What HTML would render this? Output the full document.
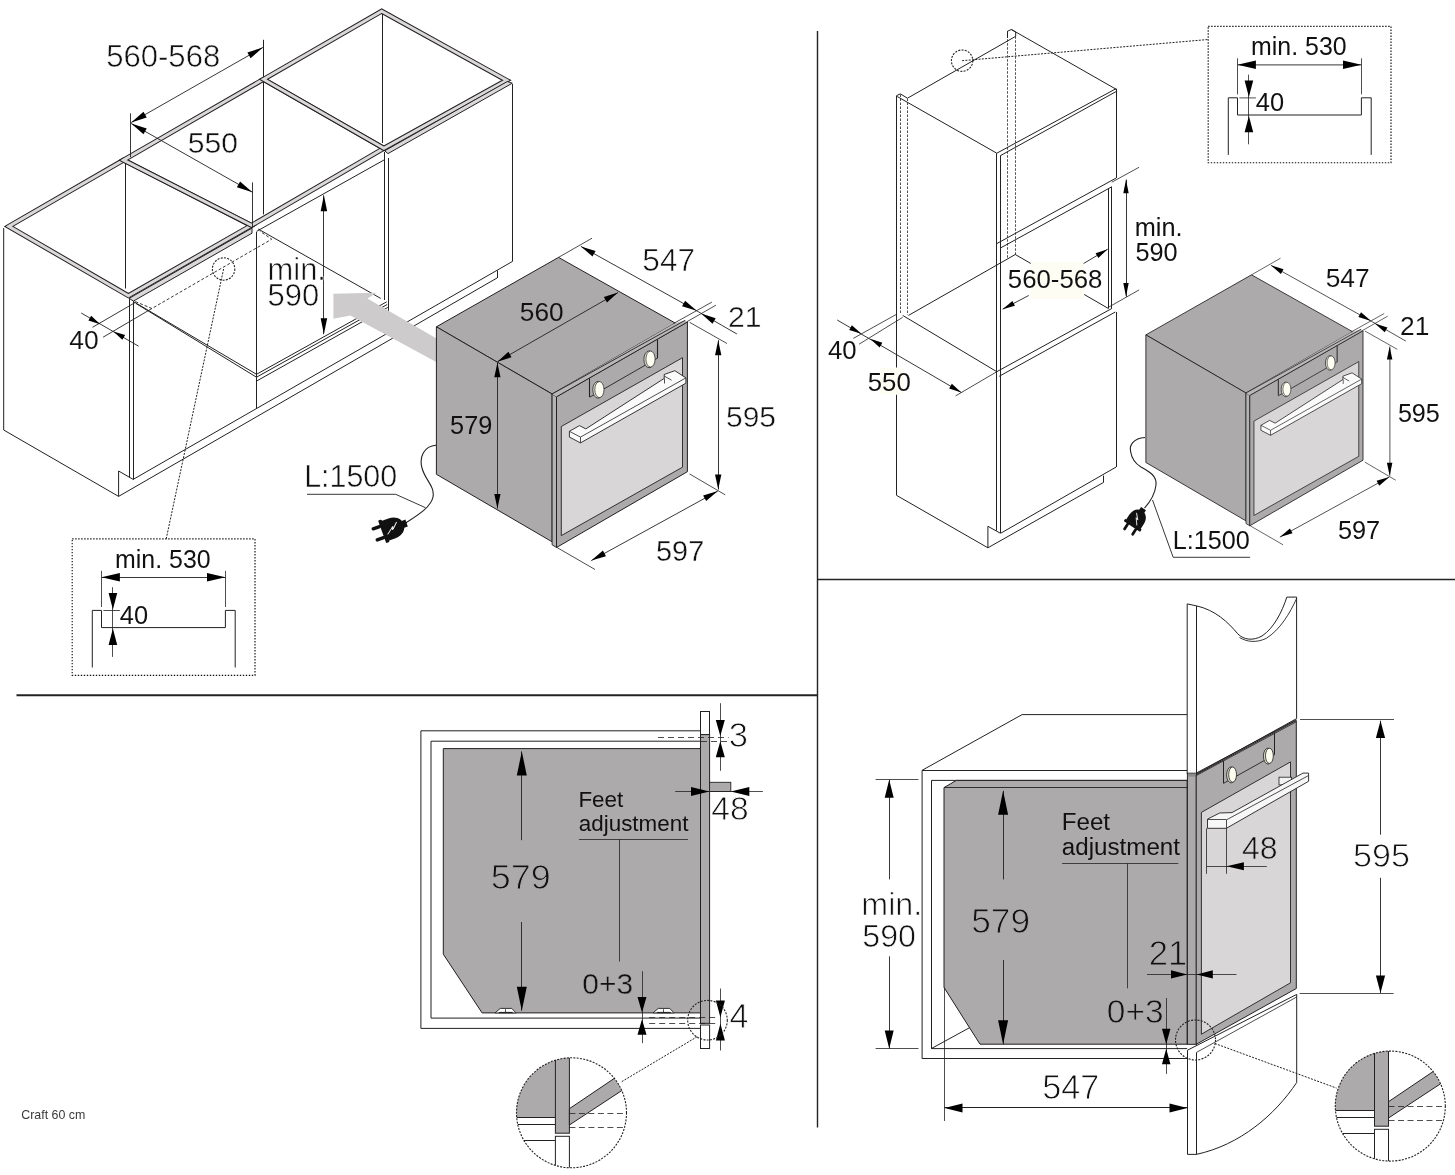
<!DOCTYPE html>
<html><head><meta charset="utf-8"><style>
html,body{margin:0;padding:0;background:#fff;width:1455px;height:1175px;overflow:hidden}
svg{display:block;font-family:"Liberation Sans",sans-serif;will-change:transform}
</style></head><body>
<svg width="1455" height="1175" viewBox="0 0 1455 1175">
<rect width="1455" height="1175" fill="#fff"/>
<line x1="817.5" y1="31" x2="817.5" y2="1127.5" stroke="#232121" stroke-width="1.4"/>
<line x1="817.5" y1="579.5" x2="1455" y2="579.5" stroke="#232121" stroke-width="1.4"/>
<line x1="16.5" y1="695.2" x2="817.5" y2="695.2" stroke="#232121" stroke-width="1.9"/>
<line x1="125.5" y1="161" x2="125.5" y2="288.5" stroke="#232121" stroke-width="1.0"/>
<line x1="263.5" y1="39.8" x2="263.5" y2="214.4" stroke="#232121" stroke-width="1.0"/>
<line x1="382.5" y1="13" x2="382.5" y2="143" stroke="#232121" stroke-width="1.0"/>
<polyline points="3.7,228 3.7,430 118.6,496.4 118.6,471 133.2,479.4" fill="none" stroke="#232121" stroke-width="1.0" stroke-linejoin="miter"/>
<line x1="129.5" y1="298.5" x2="129.5" y2="477.5" stroke="#232121" stroke-width="1.0"/>
<line x1="133.5" y1="301.2" x2="133.5" y2="479.6" stroke="#232121" stroke-width="1.0"/>
<line x1="118.6" y1="496.4" x2="497" y2="278" stroke="#232121" stroke-width="1.0"/>
<line x1="133.2" y1="479.4" x2="512" y2="261.7" stroke="#232121" stroke-width="1.0"/>
<line x1="497.5" y1="270.5" x2="497.5" y2="278" stroke="#232121" stroke-width="1.0"/>
<line x1="512.5" y1="84" x2="512.5" y2="261.7" stroke="#232121" stroke-width="1.0"/>
<line x1="384.5" y1="152" x2="384.5" y2="300" stroke="#232121" stroke-width="1.0"/>
<line x1="388.5" y1="158" x2="388.5" y2="332.6" stroke="#232121" stroke-width="1.0"/>
<line x1="256.5" y1="232" x2="256.5" y2="408" stroke="#232121" stroke-width="1.0"/>
<line x1="256.5" y1="374.3" x2="386.7" y2="301.8" stroke="#232121" stroke-width="1.0"/>
<line x1="256.5" y1="377.2" x2="387.2" y2="304.5" stroke="#232121" stroke-width="1.0"/>
<line x1="256.5" y1="381.1" x2="387.8" y2="307.4" stroke="#232121" stroke-width="1.0"/>
<line x1="133.8" y1="301.8" x2="256.5" y2="374.3" stroke="#232121" stroke-width="1.0"/>
<line x1="136" y1="303.5" x2="256.5" y2="377.2" stroke="#232121" stroke-width="1.0"/>
<line x1="258.2" y1="229" x2="380.7" y2="298.4" stroke="#232121" stroke-width="1.0"/>
<polyline points="135.4,301.6 151.9,308.5 271.7,239.2 259.7,231" fill="none" stroke="#232121" stroke-width="0.9" stroke-dasharray="3,2" stroke-linejoin="miter"/>
<line x1="92.5" y1="327.3" x2="135.4" y2="302.4" stroke="#232121" stroke-width="0.9"/>
<line x1="103.1" y1="337.2" x2="151.9" y2="308.5" stroke="#232121" stroke-width="0.9"/>
<line x1="81.2" y1="313" x2="138.6" y2="346.2" stroke="#232121" stroke-width="0.9"/>
<polygon points="100.1,324.3 88.39,320.5 91.21,315.78" fill="#000"/>
<polygon points="113.4,331.4 125.14,335.11 122.35,339.85" fill="#000"/>
<text x="69.36" y="349.37" font-size="26.4" fill="#111" stroke="#fff" stroke-width="0.09">40</text>
<polygon points="8.8,226.4 123.5,160.1 251.5,225.4 128.4,295.7" fill="none" stroke="#232121" stroke-width="5.0" stroke-linejoin="miter" stroke-miterlimit="10"/>
<polygon points="8.8,226.4 123.5,160.1 251.5,225.4 128.4,295.7" fill="none" stroke="#dad8d9" stroke-width="3.0" stroke-linejoin="miter" stroke-miterlimit="10"/>
<polygon points="123.5,160.1 263.5,79.3 383.9,148.3 251.5,225.4" fill="none" stroke="#232121" stroke-width="5.0" stroke-linejoin="miter" stroke-miterlimit="10"/>
<polygon points="123.5,160.1 263.5,79.3 383.9,148.3 251.5,225.4" fill="none" stroke="#dad8d9" stroke-width="3.0" stroke-linejoin="miter" stroke-miterlimit="10"/>
<polygon points="263.5,79.3 381.7,11.2 506.5,80.3 383.9,148.3" fill="none" stroke="#232121" stroke-width="5.0" stroke-linejoin="miter" stroke-miterlimit="10"/>
<polygon points="263.5,79.3 381.7,11.2 506.5,80.3 383.9,148.3" fill="none" stroke="#dad8d9" stroke-width="3.0" stroke-linejoin="miter" stroke-miterlimit="10"/>
<polygon points="129.2,298.3 252,228.1 252,233.2 133.4,301.1" fill="#dad8d9" stroke="#232121" stroke-width="1" stroke-linejoin="round"/>
<line x1="256.5" y1="231.4" x2="384.7" y2="159.6" stroke="#232121" stroke-width="1.0"/>
<polygon points="384.7,150.8 507.3,81.5 512.3,83.2 388,153.6" fill="#dad8d9" stroke="#232121" stroke-width="1" stroke-linejoin="round"/>
<circle cx="223.6" cy="269" r="11.2" fill="none" stroke="#232121" stroke-width="1.1" stroke-dasharray="2,1.3"/>
<line x1="223.6" y1="269" x2="166.2" y2="538.9" stroke="#232121" stroke-width="1.0" stroke-dasharray="2,1.3"/>
<line x1="130.5" y1="113.3" x2="130.5" y2="157.2" stroke="#232121" stroke-width="0.9"/>
<line x1="252.5" y1="182.4" x2="252.5" y2="227.7" stroke="#232121" stroke-width="0.9"/>
<line x1="131.2" y1="122.5" x2="262.9" y2="47.4" stroke="#232121" stroke-width="0.9"/>
<polygon points="131.2,122.5 143.49,111.75 146.71,117.4" fill="#000"/>
<polygon points="262.9,47.4 250.61,58.15 247.39,52.5" fill="#000"/>
<line x1="131.2" y1="123.5" x2="252.4" y2="192.2" stroke="#232121" stroke-width="0.9"/>
<polygon points="131.2,123.5 146.72,128.56 143.52,134.22" fill="#000"/>
<polygon points="252.4,192.2 236.88,187.14 240.08,181.48" fill="#000"/>
<text x="106.19" y="67" font-size="31.07" fill="#111" stroke="#fff" stroke-width="0.54">560-568</text>
<text x="187.87" y="153.18" font-size="30.11" fill="#111" stroke="#fff" stroke-width="0.44">550</text>
<line x1="323.5" y1="195.3" x2="323.5" y2="334.2" stroke="#232121" stroke-width="0.9"/>
<polygon points="323.9,195.3 327.15,211.3 320.65,211.3" fill="#000"/>
<polygon points="323.9,334.2 320.65,318.2 327.15,318.2" fill="#000"/>
<text x="267.6" y="305.7" font-size="30.91" fill="#111" stroke="#fff" stroke-width="0.52">590</text>
<text x="267.52" y="280" font-size="30.91" fill="#111" stroke="#fff" stroke-width="0.6">min.</text>
<polygon points="333.4,293.8 376.5,292.7 367.4,298.4 440,340.5 440,364 350.4,315.4 333.4,318.8" fill="#cdcbcb"/>
<polygon points="436.4,326.8 558.5,257.4 675.3,323.1 552.1,394" fill="#acaaab" stroke="#232121" stroke-width="1" stroke-linejoin="round"/>
<polygon points="436.4,326.8 552.1,394 552.1,541.8 436.4,474.3" fill="#acaaab" stroke="#232121" stroke-width="1" stroke-linejoin="round"/>
<polygon points="552.1,394 556.5,396.8 556.5,547.5 552.1,544.8" fill="#b4b4b4" stroke="#232121" stroke-width="0.9" stroke-linejoin="round"/>
<polygon points="556.5,396.8 687.4,322 687.4,471.7 556.5,547.5" fill="#acaaab" stroke="#232121" stroke-width="1" stroke-linejoin="round"/>
<polygon points="552.1,394 674.8,323.3 685.2,320.3 687.4,322 556.5,396.8" fill="#b9b7b8"/>
<line x1="552.1" y1="394" x2="685.2" y2="320.3" stroke="#232121" stroke-width="0.9"/>
<line x1="556.5" y1="396.8" x2="687.4" y2="322" stroke="#232121" stroke-width="0.9"/>
<polygon points="561.3,426.5 682.5,357.7 682.5,467.2 561.3,535.6" fill="#d8d6d7" stroke="#232121" stroke-width="0.9" stroke-linejoin="round"/>
<line x1="589.5" y1="378.2" x2="589.5" y2="397.1" stroke="#232121" stroke-width="1.1"/>
<line x1="657.5" y1="339.3" x2="657.5" y2="358.4" stroke="#232121" stroke-width="1.1"/>
<line x1="589.8" y1="397.1" x2="657" y2="358.4" stroke="#232121" stroke-width="0.9"/>
<ellipse cx="598" cy="389.8" rx="5.2" ry="8.4" fill="#e6e6da" stroke="#232121" stroke-width="0.8"/>
<ellipse cx="599.4" cy="389.6" rx="4.6" ry="8.0" fill="#fdfdf2" stroke="#232121" stroke-width="0.7"/>
<ellipse cx="649.1" cy="359.3" rx="5.2" ry="8.4" fill="#e6e6da" stroke="#232121" stroke-width="0.8"/>
<ellipse cx="650.5" cy="359.1" rx="4.6" ry="8.0" fill="#fdfdf2" stroke="#232121" stroke-width="0.7"/>
<polygon points="569.4,431.3 579.5,425.6 585.8,428.9 664.2,378.4 664.2,374.5 674.8,370.7 685.9,377.9 685.9,383.2 580.5,442.9 569.4,437.1" fill="#fbfbfb" stroke="#232121" stroke-width="0.9" stroke-linejoin="round"/>
<line x1="569.4" y1="431.3" x2="580.5" y2="437.1" stroke="#232121" stroke-width="0.8"/>
<line x1="580.5" y1="437.1" x2="580.5" y2="442.9" stroke="#232121" stroke-width="0.8"/>
<line x1="580.5" y1="437.1" x2="685.9" y2="377.9" stroke="#232121" stroke-width="0.8"/>
<line x1="664.5" y1="378.4" x2="664.5" y2="383.5" stroke="#232121" stroke-width="0.8"/>
<line x1="664.2" y1="376" x2="671.5" y2="380.2" stroke="#232121" stroke-width="0.8"/>
<line x1="558.5" y1="257.4" x2="592" y2="238.2" stroke="#232121" stroke-width="0.8"/>
<line x1="673.4" y1="323.6" x2="711.9" y2="302.1" stroke="#232121" stroke-width="0.8"/>
<line x1="686.8" y1="321.8" x2="715.9" y2="305.2" stroke="#232121" stroke-width="0.8"/>
<line x1="580.9" y1="246.4" x2="696.7" y2="310.8" stroke="#232121" stroke-width="0.9"/>
<polygon points="580.9,246.4 595.54,250.94 592.48,256.44" fill="#000"/>
<polygon points="696.7,310.8 682.06,306.26 685.12,300.76" fill="#000"/>
<line x1="696.7" y1="310.8" x2="736.9" y2="334" stroke="#232121" stroke-width="0.9"/>
<polygon points="701.1,313.6 715.67,318.37 712.52,323.83" fill="#000"/>
<line x1="689.5" y1="473.9" x2="725.2" y2="494.8" stroke="#232121" stroke-width="0.8"/>
<line x1="689.6" y1="322.3" x2="727" y2="343.5" stroke="#232121" stroke-width="0.8"/>
<line x1="718.5" y1="340.2" x2="718.5" y2="489.6" stroke="#232121" stroke-width="0.9"/>
<polygon points="718.2,340.2 721.35,355.2 715.05,355.2" fill="#000"/>
<polygon points="718.2,489.6 715.05,474.6 721.35,474.6" fill="#000"/>
<line x1="557" y1="547.5" x2="595" y2="569.5" stroke="#232121" stroke-width="0.8"/>
<line x1="591.3" y1="560.6" x2="717.8" y2="491.1" stroke="#232121" stroke-width="0.9"/>
<polygon points="591.3,560.6 602.93,550.62 605.96,556.14" fill="#000"/>
<polygon points="717.8,491.1 706.17,501.08 703.14,495.56" fill="#000"/>
<text x="642.34" y="271.22" font-size="31.58" fill="#111" stroke="#fff" stroke-width="0.59">547</text>
<text x="727.97" y="326.88" font-size="30.11" fill="#111" stroke="#fff" stroke-width="0.44">21</text>
<text x="725.99" y="426.87" font-size="29.94" fill="#111" stroke="#fff" stroke-width="0.43">595</text>
<text x="656.09" y="560.84" font-size="28.82" fill="#111" stroke="#fff" stroke-width="0.32">597</text>
<line x1="497.4" y1="361.7" x2="618" y2="292.6" stroke="#232121" stroke-width="0.9"/>
<polygon points="497.4,361.7 508.44,351.8 511.52,357.18" fill="#000"/>
<polygon points="618,292.6 606.96,302.5 603.88,297.12" fill="#000"/>
<text x="519.81" y="321.27" font-size="26.24" fill="#111" stroke="#acaaab" stroke-width="0.07">560</text>
<line x1="497.5" y1="362.7" x2="497.5" y2="508.5" stroke="#232121" stroke-width="0.9"/>
<polygon points="497.4,362.7 500.5,377.2 494.3,377.2" fill="#000"/>
<polygon points="497.4,508.5 494.3,494 500.5,494" fill="#000"/>
<text x="450.09" y="434.25" font-size="25.3" fill="#111">579</text>
<path d="M436,445.2 C424,446 419,457 422,468 C425,480 435,486 433,497 C431,507 418,515 405.5,523" fill="none" stroke="#232121" stroke-width="1.1"/>
<g transform="translate(392,528.3) rotate(-20)"><rect x="-10.5" y="-12" width="3.6" height="24" rx="1" fill="#111"/><path d="M-7.5,-10.5 L0,-10.5 C8,-10.5 12.5,-5.5 12.5,0 C12.5,5.5 8,10.5 0,10.5 L-7.5,10.5 Z" fill="#111"/><rect x="11" y="-3.6" width="4.5" height="7.2" fill="#111"/><rect x="-19.5" y="-7.6" width="10" height="3.4" rx="1.6" fill="#111"/><rect x="-19.5" y="4.2" width="10" height="3.4" rx="1.6" fill="#111"/><path d="M-6,4.2 L0.6,-0.8 L0,1.8 L6.5,-4.4 L0.9,1.1 L1.5,-1.6 Z" fill="#fff" stroke="#fff" stroke-width="0.6" stroke-linejoin="round"/></g>
<text x="304.15" y="487.19" font-size="30.43" fill="#111" stroke="#fff" stroke-width="0.48">L:1500</text>
<polyline points="307,494.3 395.7,494.3 425.5,507.7" fill="none" stroke="#232121" stroke-width="0.9" stroke-linejoin="miter"/>
<g transform="translate(0,0)">
<rect x="72.2" y="538.9" width="182.8" height="136.4" fill="none" stroke="#111" stroke-width="1.15" stroke-dasharray="1.4,1.6"/>
<text x="115.12" y="567.55" font-size="24.9" fill="#111">min. 530</text>
<line x1="101.5" y1="577.5" x2="225.4" y2="577.5" stroke="#232121" stroke-width="0.9"/>
<polygon points="101.5,577.3 119.9,573 119.9,581.6" fill="#000"/>
<polygon points="225.4,577.3 207,581.6 207,573" fill="#000"/>
<line x1="101.5" y1="570.9" x2="101.5" y2="607" stroke="#232121" stroke-width="0.8"/>
<line x1="225.5" y1="570.9" x2="225.5" y2="607" stroke="#232121" stroke-width="0.8"/>
<polyline points="92.3,667.5 92.3,610.4 101.5,610.4 101.5,627.6 225.4,627.6 225.4,610.4 235.2,610.4 235.2,667.5" fill="none" stroke="#232121" stroke-width="1.0" stroke-linejoin="miter"/>
<line x1="112.5" y1="587.2" x2="112.5" y2="656.9" stroke="#232121" stroke-width="0.8"/>
<polygon points="112.9,609.5 108.6,593.1 117.2,593.1" fill="#000"/>
<polygon points="112.9,628.5 117.2,644.9 108.6,644.9" fill="#000"/>
<line x1="103.4" y1="610.5" x2="119.9" y2="610.5" stroke="#232121" stroke-width="0.8"/>
<text x="119.83" y="623.75" font-size="25.44" fill="#111">40</text>
</g>
<line x1="896.5" y1="95.6" x2="896.5" y2="367.5" stroke="#232121" stroke-width="1.0"/>
<line x1="896.5" y1="394.6" x2="896.5" y2="495.4" stroke="#232121" stroke-width="1.0"/>
<polyline points="896.6,95.6 900.3,93.9 907.5,98.2" fill="none" stroke="#232121" stroke-width="1" stroke-linejoin="miter"/>
<line x1="900.5" y1="94.5" x2="900.5" y2="313" stroke="#232121" stroke-width="0.8" stroke-dasharray="2.5,1.5"/>
<line x1="907.5" y1="98.5" x2="907.5" y2="315" stroke="#232121" stroke-width="0.8" stroke-dasharray="2.5,1.5"/>
<line x1="897.2" y1="96.5" x2="996.8" y2="153.2" stroke="#232121" stroke-width="1.0"/>
<line x1="907.5" y1="98.2" x2="1015.7" y2="36.3" stroke="#232121" stroke-width="1.0"/>
<polyline points="1007.5,38 1007.5,31.2 1011.4,29.5 1015.7,32 1015.7,36.3" fill="none" stroke="#232121" stroke-width="1" stroke-linejoin="miter"/>
<line x1="1007.5" y1="31.2" x2="1007.5" y2="259" stroke="#232121" stroke-width="0.8" stroke-dasharray="2.5,1.5"/>
<line x1="1015.5" y1="36.3" x2="1015.5" y2="256" stroke="#232121" stroke-width="0.8" stroke-dasharray="2.5,1.5"/>
<line x1="1011.4" y1="29.5" x2="1116" y2="89.2" stroke="#232121" stroke-width="1.0"/>
<line x1="996.8" y1="153.2" x2="1116" y2="88.7" stroke="#232121" stroke-width="1.0"/>
<line x1="1000.3" y1="155.7" x2="1116" y2="91.6" stroke="#232121" stroke-width="1.0"/>
<line x1="996.5" y1="153.2" x2="996.5" y2="530.6" stroke="#232121" stroke-width="1.0"/>
<line x1="1000.5" y1="155.7" x2="1000.5" y2="533.2" stroke="#232121" stroke-width="1.0"/>
<line x1="1116.5" y1="88.7" x2="1116.5" y2="178" stroke="#232121" stroke-width="1.0"/>
<line x1="996.8" y1="243.6" x2="1116.2" y2="178" stroke="#232121" stroke-width="1.0"/>
<line x1="1000.8" y1="247.8" x2="1111.8" y2="186.8" stroke="#232121" stroke-width="1.0"/>
<line x1="1108.5" y1="188.5" x2="1108.5" y2="308.5" stroke="#232121" stroke-width="1.0"/>
<line x1="1111.5" y1="186.8" x2="1111.5" y2="308.5" stroke="#232121" stroke-width="1.0"/>
<line x1="902.7" y1="315.4" x2="996.8" y2="371.7" stroke="#232121" stroke-width="1.0"/>
<line x1="908.5" y1="315.4" x2="1015.3" y2="254.5" stroke="#232121" stroke-width="1.0"/>
<line x1="1015.3" y1="254.5" x2="1108.4" y2="308.5" stroke="#232121" stroke-width="1.0"/>
<line x1="996.8" y1="371.7" x2="1111.8" y2="308.5" stroke="#232121" stroke-width="1.0"/>
<line x1="999.2" y1="376.3" x2="1115.3" y2="312" stroke="#232121" stroke-width="1.0"/>
<line x1="1116.5" y1="312" x2="1116.5" y2="467" stroke="#232121" stroke-width="1.0"/>
<line x1="1000.8" y1="533.2" x2="1116.2" y2="467" stroke="#232121" stroke-width="1.0"/>
<polyline points="896.6,495.4 987.9,547.8 987.9,526.3 1000.3,533.2" fill="none" stroke="#232121" stroke-width="1" stroke-linejoin="miter"/>
<line x1="987.9" y1="547.8" x2="1103.4" y2="482.5" stroke="#232121" stroke-width="1.0"/>
<line x1="1103.5" y1="475.6" x2="1103.5" y2="482.5" stroke="#232121" stroke-width="1.0"/>
<line x1="853.3" y1="338.4" x2="896.5" y2="314.3" stroke="#232121" stroke-width="0.8"/>
<line x1="859.1" y1="344.2" x2="902.7" y2="317.3" stroke="#232121" stroke-width="0.8"/>
<line x1="955.6" y1="395.9" x2="996.9" y2="371.7" stroke="#232121" stroke-width="0.8"/>
<line x1="837.2" y1="320" x2="961.3" y2="392.4" stroke="#232121" stroke-width="0.9"/>
<polygon points="861.4,333.8 849.2,329.95 851.88,325.26" fill="#000"/>
<polygon points="870.2,338.8 882.34,342.81 879.6,347.47" fill="#000"/>
<polygon points="961.3,392.4 949.14,388.44 951.86,383.78" fill="#000"/>
<rect x="880" y="368" width="23.5" height="26.5" fill="#fdfdf4"/>
<text x="828.01" y="358.95" font-size="25.76" fill="#111" stroke="#fff" stroke-width="0.02">40</text>
<text x="867.76" y="390.55" font-size="25.76" fill="#111" stroke="#fff" stroke-width="0.02">550</text>
<rect x="1030.7" y="262.2" width="53.5" height="36.6" fill="#fdfdf4"/>
<text x="1007.86" y="288.05" font-size="25.76" fill="#111" stroke="#fff" stroke-width="0.02">560-568</text>
<line x1="1002.6" y1="309.2" x2="1028.7" y2="295.5" stroke="#232121" stroke-width="0.9"/>
<polygon points="1002.6,309.2 1012.41,301 1014.92,305.78" fill="#000"/>
<line x1="1083.6" y1="263.5" x2="1107.7" y2="249.2" stroke="#232121" stroke-width="0.9"/>
<polygon points="1107.7,249.2 1098.33,257.9 1095.57,253.26" fill="#000"/>
<line x1="1111.8" y1="182.2" x2="1139" y2="167.3" stroke="#232121" stroke-width="0.8"/>
<line x1="1108.4" y1="307.3" x2="1139.1" y2="289.9" stroke="#232121" stroke-width="0.8"/>
<line x1="1126.5" y1="179.5" x2="1126.5" y2="296.8" stroke="#232121" stroke-width="0.9"/>
<polygon points="1126,179.5 1128.7,193.2 1123.3,193.2" fill="#000"/>
<polygon points="1126,296.8 1123.3,283.1 1128.7,283.1" fill="#000"/>
<text x="1135.49" y="260.95" font-size="25.3" fill="#111">590</text>
<text x="1134.79" y="235.5" font-size="25.3" fill="#111">min.</text>
<circle cx="962.1" cy="60.7" r="10.7" fill="none" stroke="#232121" stroke-width="1.1" stroke-dasharray="2,1.3"/>
<line x1="962.1" y1="60.7" x2="1208.2" y2="39.5" stroke="#232121" stroke-width="1.0" stroke-dasharray="2,1.3"/>
<g transform="translate(1136.0,-512.6)">
<rect x="72.2" y="538.9" width="182.8" height="136.4" fill="none" stroke="#111" stroke-width="1.15" stroke-dasharray="1.4,1.6"/>
<text x="115.12" y="567.55" font-size="24.9" fill="#111">min. 530</text>
<line x1="101.5" y1="577.5" x2="225.4" y2="577.5" stroke="#232121" stroke-width="0.9"/>
<polygon points="101.5,577.3 119.9,573 119.9,581.6" fill="#000"/>
<polygon points="225.4,577.3 207,581.6 207,573" fill="#000"/>
<line x1="101.5" y1="570.9" x2="101.5" y2="607" stroke="#232121" stroke-width="0.8"/>
<line x1="225.5" y1="570.9" x2="225.5" y2="607" stroke="#232121" stroke-width="0.8"/>
<polyline points="92.3,667.5 92.3,610.4 101.5,610.4 101.5,627.6 225.4,627.6 225.4,610.4 235.2,610.4 235.2,667.5" fill="none" stroke="#232121" stroke-width="1.0" stroke-linejoin="miter"/>
<line x1="112.5" y1="587.2" x2="112.5" y2="656.9" stroke="#232121" stroke-width="0.8"/>
<polygon points="112.9,609.5 108.6,593.1 117.2,593.1" fill="#000"/>
<polygon points="112.9,628.5 117.2,644.9 108.6,644.9" fill="#000"/>
<line x1="103.4" y1="610.5" x2="119.9" y2="610.5" stroke="#232121" stroke-width="0.8"/>
<text x="119.83" y="623.75" font-size="25.44" fill="#111">40</text>
</g>
<g transform="translate(768.4,52.2) scale(0.865)">
<polygon points="436.4,326.8 558.5,257.4 675.3,323.1 552.1,394" fill="#acaaab" stroke="#232121" stroke-width="1" stroke-linejoin="round"/>
<polygon points="436.4,326.8 552.1,394 552.1,541.8 436.4,474.3" fill="#acaaab" stroke="#232121" stroke-width="1" stroke-linejoin="round"/>
<polygon points="552.1,394 556.5,396.8 556.5,547.5 552.1,544.8" fill="#b4b4b4" stroke="#232121" stroke-width="0.9" stroke-linejoin="round"/>
<polygon points="556.5,396.8 687.4,322 687.4,471.7 556.5,547.5" fill="#acaaab" stroke="#232121" stroke-width="1" stroke-linejoin="round"/>
<polygon points="552.1,394 674.8,323.3 685.2,320.3 687.4,322 556.5,396.8" fill="#b9b7b8"/>
<line x1="552.1" y1="394" x2="685.2" y2="320.3" stroke="#232121" stroke-width="0.9"/>
<line x1="556.5" y1="396.8" x2="687.4" y2="322" stroke="#232121" stroke-width="0.9"/>
<polygon points="561.3,426.5 682.5,357.7 682.5,467.2 561.3,535.6" fill="#d8d6d7" stroke="#232121" stroke-width="0.9" stroke-linejoin="round"/>
<line x1="589.5" y1="378.2" x2="589.5" y2="397.1" stroke="#232121" stroke-width="1.1"/>
<line x1="657.5" y1="339.3" x2="657.5" y2="358.4" stroke="#232121" stroke-width="1.1"/>
<line x1="589.8" y1="397.1" x2="657" y2="358.4" stroke="#232121" stroke-width="0.9"/>
<ellipse cx="598" cy="389.8" rx="5.2" ry="8.4" fill="#e6e6da" stroke="#232121" stroke-width="0.8"/>
<ellipse cx="599.4" cy="389.6" rx="4.6" ry="8.0" fill="#fdfdf2" stroke="#232121" stroke-width="0.7"/>
<ellipse cx="649.1" cy="359.3" rx="5.2" ry="8.4" fill="#e6e6da" stroke="#232121" stroke-width="0.8"/>
<ellipse cx="650.5" cy="359.1" rx="4.6" ry="8.0" fill="#fdfdf2" stroke="#232121" stroke-width="0.7"/>
<polygon points="569.4,431.3 579.5,425.6 585.8,428.9 664.2,378.4 664.2,374.5 674.8,370.7 685.9,377.9 685.9,383.2 580.5,442.9 569.4,437.1" fill="#fbfbfb" stroke="#232121" stroke-width="0.9" stroke-linejoin="round"/>
<line x1="569.4" y1="431.3" x2="580.5" y2="437.1" stroke="#232121" stroke-width="0.8"/>
<line x1="580.5" y1="437.1" x2="580.5" y2="442.9" stroke="#232121" stroke-width="0.8"/>
<line x1="580.5" y1="437.1" x2="685.9" y2="377.9" stroke="#232121" stroke-width="0.8"/>
<line x1="664.5" y1="378.4" x2="664.5" y2="383.5" stroke="#232121" stroke-width="0.8"/>
<line x1="664.2" y1="376" x2="671.5" y2="380.2" stroke="#232121" stroke-width="0.8"/>
<line x1="558.5" y1="257.4" x2="592" y2="238.2" stroke="#232121" stroke-width="0.8"/>
<line x1="673.4" y1="323.6" x2="711.9" y2="302.1" stroke="#232121" stroke-width="0.8"/>
<line x1="686.8" y1="321.8" x2="715.9" y2="305.2" stroke="#232121" stroke-width="0.8"/>
<line x1="580.9" y1="246.4" x2="696.7" y2="310.8" stroke="#232121" stroke-width="0.9"/>
<polygon points="580.9,246.4 595.54,250.94 592.48,256.44" fill="#000"/>
<polygon points="696.7,310.8 682.06,306.26 685.12,300.76" fill="#000"/>
<line x1="696.7" y1="310.8" x2="736.9" y2="334" stroke="#232121" stroke-width="0.9"/>
<polygon points="701.1,313.6 715.67,318.37 712.52,323.83" fill="#000"/>
<line x1="689.5" y1="473.9" x2="725.2" y2="494.8" stroke="#232121" stroke-width="0.8"/>
<line x1="689.6" y1="322.3" x2="727" y2="343.5" stroke="#232121" stroke-width="0.8"/>
<line x1="718.5" y1="340.2" x2="718.5" y2="489.6" stroke="#232121" stroke-width="0.9"/>
<polygon points="718.2,340.2 721.35,355.2 715.05,355.2" fill="#000"/>
<polygon points="718.2,489.6 715.05,474.6 721.35,474.6" fill="#000"/>
<line x1="557" y1="547.5" x2="595" y2="569.5" stroke="#232121" stroke-width="0.8"/>
<line x1="591.3" y1="560.6" x2="717.8" y2="491.1" stroke="#232121" stroke-width="0.9"/>
<polygon points="591.3,560.6 602.93,550.62 605.96,556.14" fill="#000"/>
<polygon points="717.8,491.1 706.17,501.08 703.14,495.56" fill="#000"/>
</g>
<text x="1325.71" y="286.57" font-size="26.34" fill="#111" stroke="#fff" stroke-width="0.08">547</text>
<text x="1400.04" y="334.93" font-size="26.34" fill="#111" stroke="#fff" stroke-width="0.08">21</text>
<text x="1397.89" y="422.15" font-size="25.16" fill="#111">595</text>
<text x="1337.89" y="539.05" font-size="25.3" fill="#111">597</text>
<path d="M1145,437.5 C1133,438 1129,446 1130.7,452 C1132,460 1136,464 1141,467 C1150,472 1157,476 1156,485 C1155,494 1150,502 1144.5,508.1" fill="none" stroke="#232121" stroke-width="1.1"/>
<g transform="translate(1136.6,519.3) rotate(-57) scale(0.82)"><rect x="-10.5" y="-12" width="3.6" height="24" rx="1" fill="#111"/><path d="M-7.5,-10.5 L0,-10.5 C8,-10.5 12.5,-5.5 12.5,0 C12.5,5.5 8,10.5 0,10.5 L-7.5,10.5 Z" fill="#111"/><rect x="11" y="-3.6" width="4.5" height="7.2" fill="#111"/><rect x="-19.5" y="-7.6" width="10" height="3.4" rx="1.6" fill="#111"/><rect x="-19.5" y="4.2" width="10" height="3.4" rx="1.6" fill="#111"/><path d="M-6,4.2 L0.6,-0.8 L0,1.8 L6.5,-4.4 L0.9,1.1 L1.5,-1.6 Z" fill="#fff" stroke="#fff" stroke-width="0.6" stroke-linejoin="round"/></g>
<text x="1172.82" y="548.65" font-size="25.16" fill="#111">L:1500</text>
<polyline points="1152.5,500 1173.2,557.3 1250.1,557.3" fill="none" stroke="#232121" stroke-width="0.9" stroke-linejoin="miter"/>
<polyline points="701.3,730.8 420.9,730.8 420.9,1028.4 700.5,1028.4" fill="none" stroke="#232121" stroke-width="1" stroke-linejoin="miter"/>
<polyline points="700.5,741.2 431,741.2 431,1018.1 700.5,1018.1" fill="none" stroke="#232121" stroke-width="1" stroke-linejoin="miter"/>
<polygon points="443.3,748.6 700.5,748.6 700.5,1012.9 482.1,1012.9 443.3,954.2" fill="#acaaab" stroke="#232121" stroke-width="1" stroke-linejoin="round"/>
<polygon points="495,1012.9 500.3,1008.4 511.7,1008.4 516.1,1012.9" fill="#fff" stroke="#232121" stroke-width="0.9" stroke-linejoin="round"/>
<line x1="498.8" y1="1012.5" x2="512.7" y2="1012.5" stroke="#232121" stroke-width="1.2"/>
<line x1="505.5" y1="1009.2" x2="505.5" y2="1012.9" stroke="#232121" stroke-width="0.8"/>
<polygon points="653,1012.9 658.3,1008.4 669.7,1008.4 674.1,1012.9" fill="#fff" stroke="#232121" stroke-width="0.9" stroke-linejoin="round"/>
<line x1="656.8" y1="1012.5" x2="670.7" y2="1012.5" stroke="#232121" stroke-width="1.2"/>
<line x1="663.5" y1="1009.2" x2="663.5" y2="1012.9" stroke="#232121" stroke-width="0.8"/>
<rect x="700.5" y="711.5" width="9" height="23.1" fill="#fff" stroke="#232121" stroke-width="1"/>
<rect x="700.5" y="734.6" width="9.1" height="288.7" fill="#acaaab" stroke="#232121" stroke-width="1"/>
<rect x="700.5" y="1025" width="9.1" height="23.5" fill="#fff" stroke="#232121" stroke-width="1"/>
<rect x="709.6" y="782.3" width="21.2" height="9.2" fill="#acaaab" stroke="#232121" stroke-width="0.9"/>
<line x1="658" y1="737.5" x2="728.6" y2="737.5" stroke="#232121" stroke-width="0.8" stroke-dasharray="6,4"/>
<line x1="701" y1="741.5" x2="728.6" y2="741.5" stroke="#232121" stroke-width="0.8" stroke-dasharray="6,4"/>
<line x1="720.5" y1="703.2" x2="720.5" y2="770.8" stroke="#232121" stroke-width="0.8"/>
<polygon points="720.3,736 715.8,720 724.8,720" fill="#000"/>
<polygon points="720.3,741.2 724.8,757.2 715.8,757.2" fill="#000"/>
<text x="728.86" y="747.11" font-size="34.62" fill="#111" stroke="#fff" stroke-width="0.88">3</text>
<line x1="675.2" y1="791.5" x2="762.9" y2="791.5" stroke="#232121" stroke-width="0.8"/>
<polygon points="709.5,791.5 691,796 691,787" fill="#000"/>
<polygon points="730.8,791.5 749.3,787 749.3,796" fill="#000"/>
<text x="711.35" y="819.58" font-size="33.65" fill="#111" stroke="#fff" stroke-width="0.79">48</text>
<text x="578.45" y="806.6" font-size="22.4" fill="#111">Feet</text>
<text x="578.85" y="831.4" font-size="22.4" fill="#111">adjustment</text>
<line x1="578.9" y1="839.5" x2="688" y2="839.5" stroke="#232121" stroke-width="0.8"/>
<line x1="619.5" y1="839.2" x2="619.5" y2="961.6" stroke="#232121" stroke-width="0.8"/>
<line x1="521.5" y1="751.4" x2="521.5" y2="840.2" stroke="#232121" stroke-width="0.9"/>
<polygon points="521.8,751.4 526.8,775.4 516.8,775.4" fill="#000"/>
<line x1="521.5" y1="922" x2="521.5" y2="1010.7" stroke="#232121" stroke-width="0.9"/>
<polygon points="521.8,1010.7 516.8,986.7 526.8,986.7" fill="#000"/>
<text x="490.76" y="888.54" font-size="35.91" fill="#111" stroke="#acaaab" stroke-width="1">579</text>
<text x="582.29" y="994.17" font-size="29.94" fill="#111" stroke="#acaaab" stroke-width="0.43">0+3</text>
<line x1="642.5" y1="971.2" x2="642.5" y2="1043.1" stroke="#232121" stroke-width="0.8"/>
<polygon points="642,1012.6 637.5,997.1 646.5,997.1" fill="#000"/>
<polygon points="642,1019.2 646.5,1034.7 637.5,1034.7" fill="#000"/>
<line x1="649.2" y1="1017.5" x2="717.5" y2="1017.5" stroke="#232121" stroke-width="0.8" stroke-dasharray="6,4"/>
<line x1="649.2" y1="1023.5" x2="717.5" y2="1023.5" stroke="#232121" stroke-width="0.8" stroke-dasharray="6,4"/>
<line x1="720.5" y1="988.5" x2="720.5" y2="1050.5" stroke="#232121" stroke-width="0.8"/>
<polygon points="720.4,1017.4 715.9,1000.4 724.9,1000.4" fill="#000"/>
<polygon points="720.4,1023.5 724.9,1040.5 715.9,1040.5" fill="#000"/>
<text x="729.41" y="1027.74" font-size="34.27" fill="#111" stroke="#fff" stroke-width="0.84">4</text>
<circle cx="707.5" cy="1020.2" r="19.8" fill="none" stroke="#232121" stroke-width="1.1" stroke-dasharray="2,1.3"/>
<line x1="697.2" y1="1036.7" x2="620.8" y2="1082.2" stroke="#232121" stroke-width="1.0" stroke-dasharray="2,1.3"/>
<clipPath id="c571"><circle cx="571.5" cy="1112.8" r="55"/></clipPath>
<g clip-path="url(#c571)"><g transform="translate(0,0)">
<rect x="505" y="1050" width="50.4" height="67.1" fill="#acaaab"/>
<line x1="505" y1="1117.5" x2="555.4" y2="1117.5" stroke="#232121" stroke-width="1"/>
<line x1="505" y1="1124.5" x2="555.4" y2="1124.5" stroke="#232121" stroke-width="1"/>
<line x1="505" y1="1140.5" x2="555.4" y2="1140.5" stroke="#232121" stroke-width="1"/>
<rect x="555.4" y="1045" width="14" height="88.2" fill="#acaaab" stroke="#232121" stroke-width="1"/>
<rect x="555.4" y="1136.3" width="14" height="50" fill="#fff" stroke="#232121" stroke-width="1"/>
<polygon points="569.4,1108.7 635,1064.4 640,1078.6 569.4,1125" fill="#acaaab" stroke="#232121" stroke-width="1" stroke-linejoin="round"/>
<line x1="569.4" y1="1113.5" x2="640" y2="1113.5" stroke="#232121" stroke-width="0.8" stroke-dasharray="6,3.5"/>
<line x1="569.4" y1="1127.5" x2="640" y2="1127.5" stroke="#232121" stroke-width="0.8" stroke-dasharray="6,3.5"/>
</g></g>
<circle cx="571.5" cy="1112.8" r="55" fill="none" stroke="#232121" stroke-width="1.1" stroke-dasharray="2,1.3"/>
<text x="21.28" y="1118.7" font-size="12.4" fill="#3a3a3a">Craft 60 cm</text>
<polyline points="922.1,1058.7 922.1,770.3 1022.1,714.6 1187.2,714.6" fill="none" stroke="#232121" stroke-width="1" stroke-linejoin="miter"/>
<line x1="922.1" y1="770.5" x2="1187.2" y2="770.5" stroke="#232121" stroke-width="1.0"/>
<polyline points="1187.2,780.4 931.5,780.4 931.5,1048.6 1187.2,1048.6" fill="none" stroke="#232121" stroke-width="1" stroke-linejoin="miter"/>
<line x1="922.1" y1="1058.5" x2="1187.2" y2="1058.5" stroke="#232121" stroke-width="1.0"/>
<line x1="931.3" y1="1048.6" x2="970.8" y2="1027" stroke="#232121" stroke-width="1.0"/>
<polygon points="944,787.6 956.3,780.4 1187.2,780.4 1187.2,1044.2 980,1044.2 944,987.4" fill="#acaaab" stroke="#232121" stroke-width="1" stroke-linejoin="round"/>
<line x1="944" y1="787.5" x2="1187.2" y2="787.5" stroke="#232121" stroke-width="0.9"/>
<path d="M1187.2,603.9 L1196.6,605.9 C1215,610 1228,622 1237.8,633.9 C1244,640 1253,641 1262,636 C1274,628 1282,612 1286.8,597.1 L1296.6,597.1 L1296.6,718.6 L1196.6,773.8 L1187.2,773.8 Z" fill="#fff" stroke="#232121" stroke-width="1"/>
<path d="M1239.5,637.5 C1247,642 1256,643 1266,638.5 C1280,630 1290,613 1296.6,598.5" fill="none" stroke="#232121" stroke-width="0.9"/>
<line x1="1196.5" y1="605.9" x2="1196.5" y2="773.8" stroke="#232121" stroke-width="1.0"/>
<rect x="1187.4" y="773.2" width="9" height="271.1" fill="#acaaab" stroke="#232121" stroke-width="1"/>
<rect x="1187.9" y="773.6" width="8" height="3" fill="#8c8c8c"/>
<polygon points="1196.2,774.6 1296.3,720.5 1296.3,988.5 1196.2,1044.3" fill="#acaaab" stroke="#232121" stroke-width="1" stroke-linejoin="round"/>
<line x1="1196.2" y1="773.1" x2="1296.3" y2="719.8" stroke="#232121" stroke-width="1"/>
<line x1="1196.2" y1="775.6" x2="1296.3" y2="721.8" stroke="#232121" stroke-width="0.8"/>
<polygon points="1201.4,812.4 1290.5,761.9 1290.5,982.8 1201.4,1034.2" fill="#d8d6d7" stroke="#232121" stroke-width="0.9" stroke-linejoin="round"/>
<line x1="1223.5" y1="760.9" x2="1223.5" y2="783.3" stroke="#232121" stroke-width="1"/>
<line x1="1274.5" y1="732.3" x2="1274.5" y2="754.7" stroke="#232121" stroke-width="1"/>
<line x1="1223.6" y1="783.3" x2="1274.7" y2="754.7" stroke="#232121" stroke-width="0.9"/>
<ellipse cx="1231.2" cy="774.9" rx="4.6" ry="8" fill="#d8d8c8" stroke="#232121" stroke-width="0.8"/>
<ellipse cx="1232.6" cy="774.6" rx="3.9" ry="7.6" fill="#fdfdf0" stroke="#232121" stroke-width="0.8"/>
<ellipse cx="1268.0" cy="756.0999999999999" rx="4.6" ry="8" fill="#d8d8c8" stroke="#232121" stroke-width="0.8"/>
<ellipse cx="1269.3999999999999" cy="755.8" rx="3.9" ry="7.6" fill="#fdfdf0" stroke="#232121" stroke-width="0.8"/>
<rect x="1279" y="777.2" width="12.7" height="7.7" fill="#f4f4f4" stroke="#232121" stroke-width="0.8"/>
<polygon points="1207.5,819.1 1219.7,813 1232,812.6 1303,773.1 1308.6,773.1 1308.6,781.3 1226.4,828.3 1207.5,828.3" fill="#f7f7f7" stroke="#232121" stroke-width="0.9" stroke-linejoin="round"/>
<line x1="1207.5" y1="819.5" x2="1226.4" y2="819.5" stroke="#232121" stroke-width="0.8"/>
<line x1="1226.4" y1="819.9" x2="1308.6" y2="775.5" stroke="#232121" stroke-width="0.8"/>
<line x1="1226.5" y1="819.9" x2="1226.5" y2="828.3" stroke="#232121" stroke-width="0.8"/>
<path d="M1187.5,1050.2 L1296.7,994.4 L1296.7,1082.5 C1275,1115 1240,1145 1196.3,1154.4 L1187.5,1154.4 Z" fill="#fff" stroke="#232121" stroke-width="1"/>
<line x1="1196.3" y1="1052.5" x2="1296.7" y2="997" stroke="#232121" stroke-width="0.8"/>
<line x1="1196.5" y1="1052.5" x2="1196.5" y2="1154.4" stroke="#232121" stroke-width="1.0"/>
<line x1="875.6" y1="779.5" x2="918.5" y2="779.5" stroke="#232121" stroke-width="0.8"/>
<line x1="875.6" y1="1048.5" x2="918.5" y2="1048.5" stroke="#232121" stroke-width="0.8"/>
<line x1="889.5" y1="779.8" x2="889.5" y2="879.4" stroke="#232121" stroke-width="0.9"/>
<polygon points="889.2,779.8 893.7,797.8 884.7,797.8" fill="#000"/>
<line x1="889.5" y1="956.3" x2="889.5" y2="1048.6" stroke="#232121" stroke-width="0.9"/>
<polygon points="889.2,1048.6 884.7,1030.6 893.7,1030.6" fill="#000"/>
<text x="862.29" y="947.34" font-size="32.2" fill="#111" stroke="#fff" stroke-width="0.65">590</text>
<text x="861.36" y="915.3" font-size="32.2" fill="#111" stroke="#fff" stroke-width="0.74">min.</text>
<line x1="1003.5" y1="790.8" x2="1003.5" y2="879.4" stroke="#232121" stroke-width="0.9"/>
<polygon points="1003.1,790.8 1008.1,814.8 998.1,814.8" fill="#000"/>
<line x1="1003.5" y1="960" x2="1003.5" y2="1044.2" stroke="#232121" stroke-width="0.9"/>
<polygon points="1003.1,1044.2 998.1,1020.2 1008.1,1020.2" fill="#000"/>
<text x="971.22" y="933.22" font-size="35.26" fill="#111" stroke="#acaaab" stroke-width="0.94">579</text>
<text x="1061.71" y="829.5" font-size="24.15" fill="#111">Feet</text>
<text x="1061.87" y="855.3" font-size="24.15" fill="#111">adjustment</text>
<line x1="1062.1" y1="863.5" x2="1178.3" y2="863.5" stroke="#232121" stroke-width="0.8"/>
<line x1="1127.5" y1="863.5" x2="1127.5" y2="988.3" stroke="#232121" stroke-width="0.8"/>
<text x="1106.77" y="1023.17" font-size="33.49" fill="#111" stroke="#acaaab" stroke-width="0.77">0+3</text>
<line x1="1166.5" y1="998" x2="1166.5" y2="1073.9" stroke="#232121" stroke-width="0.8"/>
<polygon points="1166.2,1044.3 1161.95,1028.8 1170.45,1028.8" fill="#000"/>
<polygon points="1166.2,1048.7 1170.45,1064.2 1161.95,1064.2" fill="#000"/>
<text x="1148.72" y="964.85" font-size="34.69" fill="#111" stroke="#acaaab" stroke-width="0.89">21</text>
<line x1="1147" y1="974.5" x2="1236.5" y2="974.5" stroke="#232121" stroke-width="0.8"/>
<polygon points="1187.2,974.4 1171,978.45 1171,970.35" fill="#000"/>
<polygon points="1196.6,974.4 1212.8,970.35 1212.8,978.45" fill="#000"/>
<text x="1242.06" y="859.43" font-size="32.04" fill="#111" stroke="#d8d6d7" stroke-width="0.63">48</text>
<line x1="1206.5" y1="828.3" x2="1206.5" y2="873.8" stroke="#232121" stroke-width="0.8"/>
<line x1="1226.5" y1="828.3" x2="1226.5" y2="873.8" stroke="#232121" stroke-width="0.8"/>
<line x1="1206.8" y1="866.5" x2="1266.8" y2="866.5" stroke="#232121" stroke-width="0.8"/>
<polygon points="1226.5,866.3 1243.9,862.35 1243.9,870.25" fill="#000"/>
<text x="1353.02" y="867.39" font-size="34.13" fill="#111" stroke="#fff" stroke-width="0.83">595</text>
<line x1="1300" y1="719.5" x2="1394" y2="719.5" stroke="#232121" stroke-width="0.8"/>
<line x1="1299.6" y1="993.5" x2="1393.6" y2="993.5" stroke="#232121" stroke-width="0.8"/>
<line x1="1380.5" y1="720.7" x2="1380.5" y2="834.7" stroke="#232121" stroke-width="0.9"/>
<polygon points="1380.5,720.7 1385.1,738.1 1375.9,738.1" fill="#000"/>
<line x1="1380.5" y1="877.8" x2="1380.5" y2="993" stroke="#232121" stroke-width="0.9"/>
<polygon points="1380.5,993 1375.9,975.6 1385.1,975.6" fill="#000"/>
<text x="1042.21" y="1099.09" font-size="34.2" fill="#111" stroke="#fff" stroke-width="0.84">547</text>
<line x1="944.5" y1="987.4" x2="944.5" y2="1121" stroke="#232121" stroke-width="0.8"/>
<line x1="944.5" y1="1107.5" x2="1187.5" y2="1107.5" stroke="#232121" stroke-width="1.1"/>
<polygon points="944.5,1107.9 962.5,1103.4 962.5,1112.4" fill="#000"/>
<polygon points="1187.5,1107.9 1169.5,1112.4 1169.5,1103.4" fill="#000"/>
<circle cx="1195.5" cy="1040" r="20" fill="none" stroke="#232121" stroke-width="1.1" stroke-dasharray="2,1.3"/>
<line x1="1214.9" y1="1043.5" x2="1336.5" y2="1088.1" stroke="#232121" stroke-width="1.0" stroke-dasharray="2,1.3"/>
<clipPath id="c1390"><circle cx="1390.3" cy="1106.1" r="55"/></clipPath>
<g clip-path="url(#c1390)"><g transform="translate(819.1,-7)">
<rect x="505" y="1050" width="50.4" height="67.1" fill="#acaaab"/>
<line x1="505" y1="1117.5" x2="555.4" y2="1117.5" stroke="#232121" stroke-width="1"/>
<line x1="505" y1="1124.5" x2="555.4" y2="1124.5" stroke="#232121" stroke-width="1"/>
<line x1="505" y1="1140.5" x2="555.4" y2="1140.5" stroke="#232121" stroke-width="1"/>
<rect x="555.4" y="1045" width="14" height="88.2" fill="#acaaab" stroke="#232121" stroke-width="1"/>
<rect x="555.4" y="1136.3" width="14" height="50" fill="#fff" stroke="#232121" stroke-width="1"/>
<polygon points="569.4,1108.7 635,1064.4 640,1078.6 569.4,1125" fill="#acaaab" stroke="#232121" stroke-width="1" stroke-linejoin="round"/>
<line x1="569.4" y1="1113.5" x2="640" y2="1113.5" stroke="#232121" stroke-width="0.8" stroke-dasharray="6,3.5"/>
<line x1="569.4" y1="1127.5" x2="640" y2="1127.5" stroke="#232121" stroke-width="0.8" stroke-dasharray="6,3.5"/>
</g></g>
<circle cx="1390.3" cy="1106.1" r="55" fill="none" stroke="#232121" stroke-width="1.1" stroke-dasharray="2,1.3"/>
</svg>
</body></html>
